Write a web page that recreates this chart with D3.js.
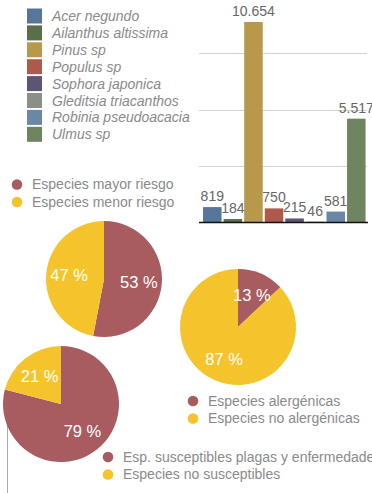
<!DOCTYPE html>
<html>
<head>
<meta charset="utf-8">
<script src="https://cdn.jsdelivr.net/npm/d3@7"></script>
<style>
  html, body { margin: 0; padding: 0; background: #fff; }
  svg { display: block; font-family: "Liberation Sans", Arial, sans-serif; }
</style>
</head>
<body>
<svg id="chart" width="372" height="493"></svg>
<script>
// Tree species counts
const species = ["Acer negundo", "Ailanthus altissima", "Pinus sp", "Populus sp",
                 "Sophora japonica", "Gleditsia triacanthos", "Robinia pseudoacacia", "Ulmus sp"];
const counts = [819, 184, 10654, 750, 215, 46, 581, 5517];
const speciesColors = ["#56779a", "#5a6e4a", "#b8984a", "#ad5a4c", "#5e5575", "#8b8f88", "#6888a6", "#6e855f"];
const gridTicks = [3000, 6000, 9000];

// Share of species in each risk group (percent)
const riskLabels = ["Especies mayor riesgo", "Especies menor riesgo"];
const riskValues = [53, 47];
const allergyLabels = ["Especies alergénicas", "Especies no alergénicas"];
const allergyValues = [13, 87];
const pestLabels = ["Esp. susceptibles plagas y enfermedades", "Especies no susceptibles"];
const pestValues = [79, 21];
const pieColors = ["#a85c5f", "#f5c42c"];

const svg = d3.select("#chart");
const fmt = d3.formatLocale({ decimal: ",", thousands: ".", grouping: [3], currency: ["", ""] }).format(",d");

// ---- Bar chart ----
const x = d3.scaleBand().domain(species).range([202, 366.6]).paddingInner(0.1).paddingOuter(0.05);
const y = d3.scaleLinear().domain([0, 12000]).range([222.5, 222.5 - 12000 * 0.01882]);

svg.append("g").selectAll("line").data(gridTicks).join("line")
  .attr("x1", 199).attr("x2", 367)
  .attr("y1", d => Math.round(y(d)) + 0.5).attr("y2", d => Math.round(y(d)) + 0.5)
  .attr("stroke", "#d3d3d3").attr("stroke-width", 1);

svg.append("g").selectAll("rect").data(species).join("rect")
  .attr("x", d => x(d))
  .attr("y", (d, i) => y(counts[i]))
  .attr("width", x.bandwidth())
  .attr("height", (d, i) => y(0) - y(counts[i]))
  .attr("fill", (d, i) => speciesColors[i]);

svg.append("line")
  .attr("x1", 199).attr("x2", 368).attr("y1", y(0)).attr("y2", y(0))
  .attr("stroke", "#111").attr("stroke-width", 1.6);

svg.append("g").selectAll("text").data(species).join("text")
  .attr("x", d => x(d) + x.bandwidth() / 2)
  .attr("y", (d, i) => y(counts[i]) - 6)
  .attr("text-anchor", "middle")
  .attr("font-size", 14)
  .attr("fill", "#666")
  .text((d, i) => fmt(counts[i]));

// Species legend
const leg = svg.append("g").selectAll("g").data(species).join("g")
  .attr("transform", (d, i) => `translate(27, ${8.5 + i * 16.9})`);
leg.append("rect").attr("width", 15).attr("height", 15).attr("fill", (d, i) => speciesColors[i]);
leg.append("text").attr("x", 25).attr("y", 12.5)
  .attr("font-size", 14).attr("font-style", "italic").attr("fill", "#8a8a8a")
  .text(d => d);

// ---- Pie charts ----
const pie = d3.pie().sort(null).value(d => d);
const arc = d3.arc().innerRadius(0).outerRadius(58);
const labelArc = d3.arc().innerRadius(35).outerRadius(35);

// thin rule behind the lower pie
svg.append("line").attr("x1", 7.5).attr("x2", 7.5).attr("y1", 400).attr("y2", 493)
  .attr("stroke", "#aaa").attr("stroke-width", 1);

function drawPie(values, cx, cy) {
  const g = svg.append("g").attr("transform", `translate(${cx},${cy})`);
  const arcs = pie(values);
  g.selectAll("path").data(arcs).join("path")
    .attr("d", arc).attr("fill", (d, i) => pieColors[i]);
  g.selectAll("text").data(arcs).join("text")
    .attr("transform", d => `translate(${labelArc.centroid(d)})`)
    .attr("text-anchor", "middle").attr("dy", "0.35em")
    .attr("font-size", 16.5).attr("fill", "#fff")
    .text(d => d.data + " %");
}

function drawLegend(labels, lx, ly) {
  const g = svg.append("g").selectAll("g").data(labels).join("g")
    .attr("transform", (d, i) => `translate(${lx}, ${ly + i * 17.5})`);
  g.append("circle").attr("r", 5.3).attr("fill", (d, i) => pieColors[i]);
  g.append("text").attr("x", 15).attr("dy", "0.35em")
    .attr("font-size", 14).attr("fill", "#8a8a8a").text(d => d);
}

drawLegend(riskLabels, 17, 184.5);
drawPie(riskValues, 104, 279);
drawPie(allergyValues, 238, 327);
drawLegend(allergyLabels, 193, 401);
drawPie(pestValues, 61, 404);
drawLegend(pestLabels, 108, 457);
</script>
</body>
</html>
